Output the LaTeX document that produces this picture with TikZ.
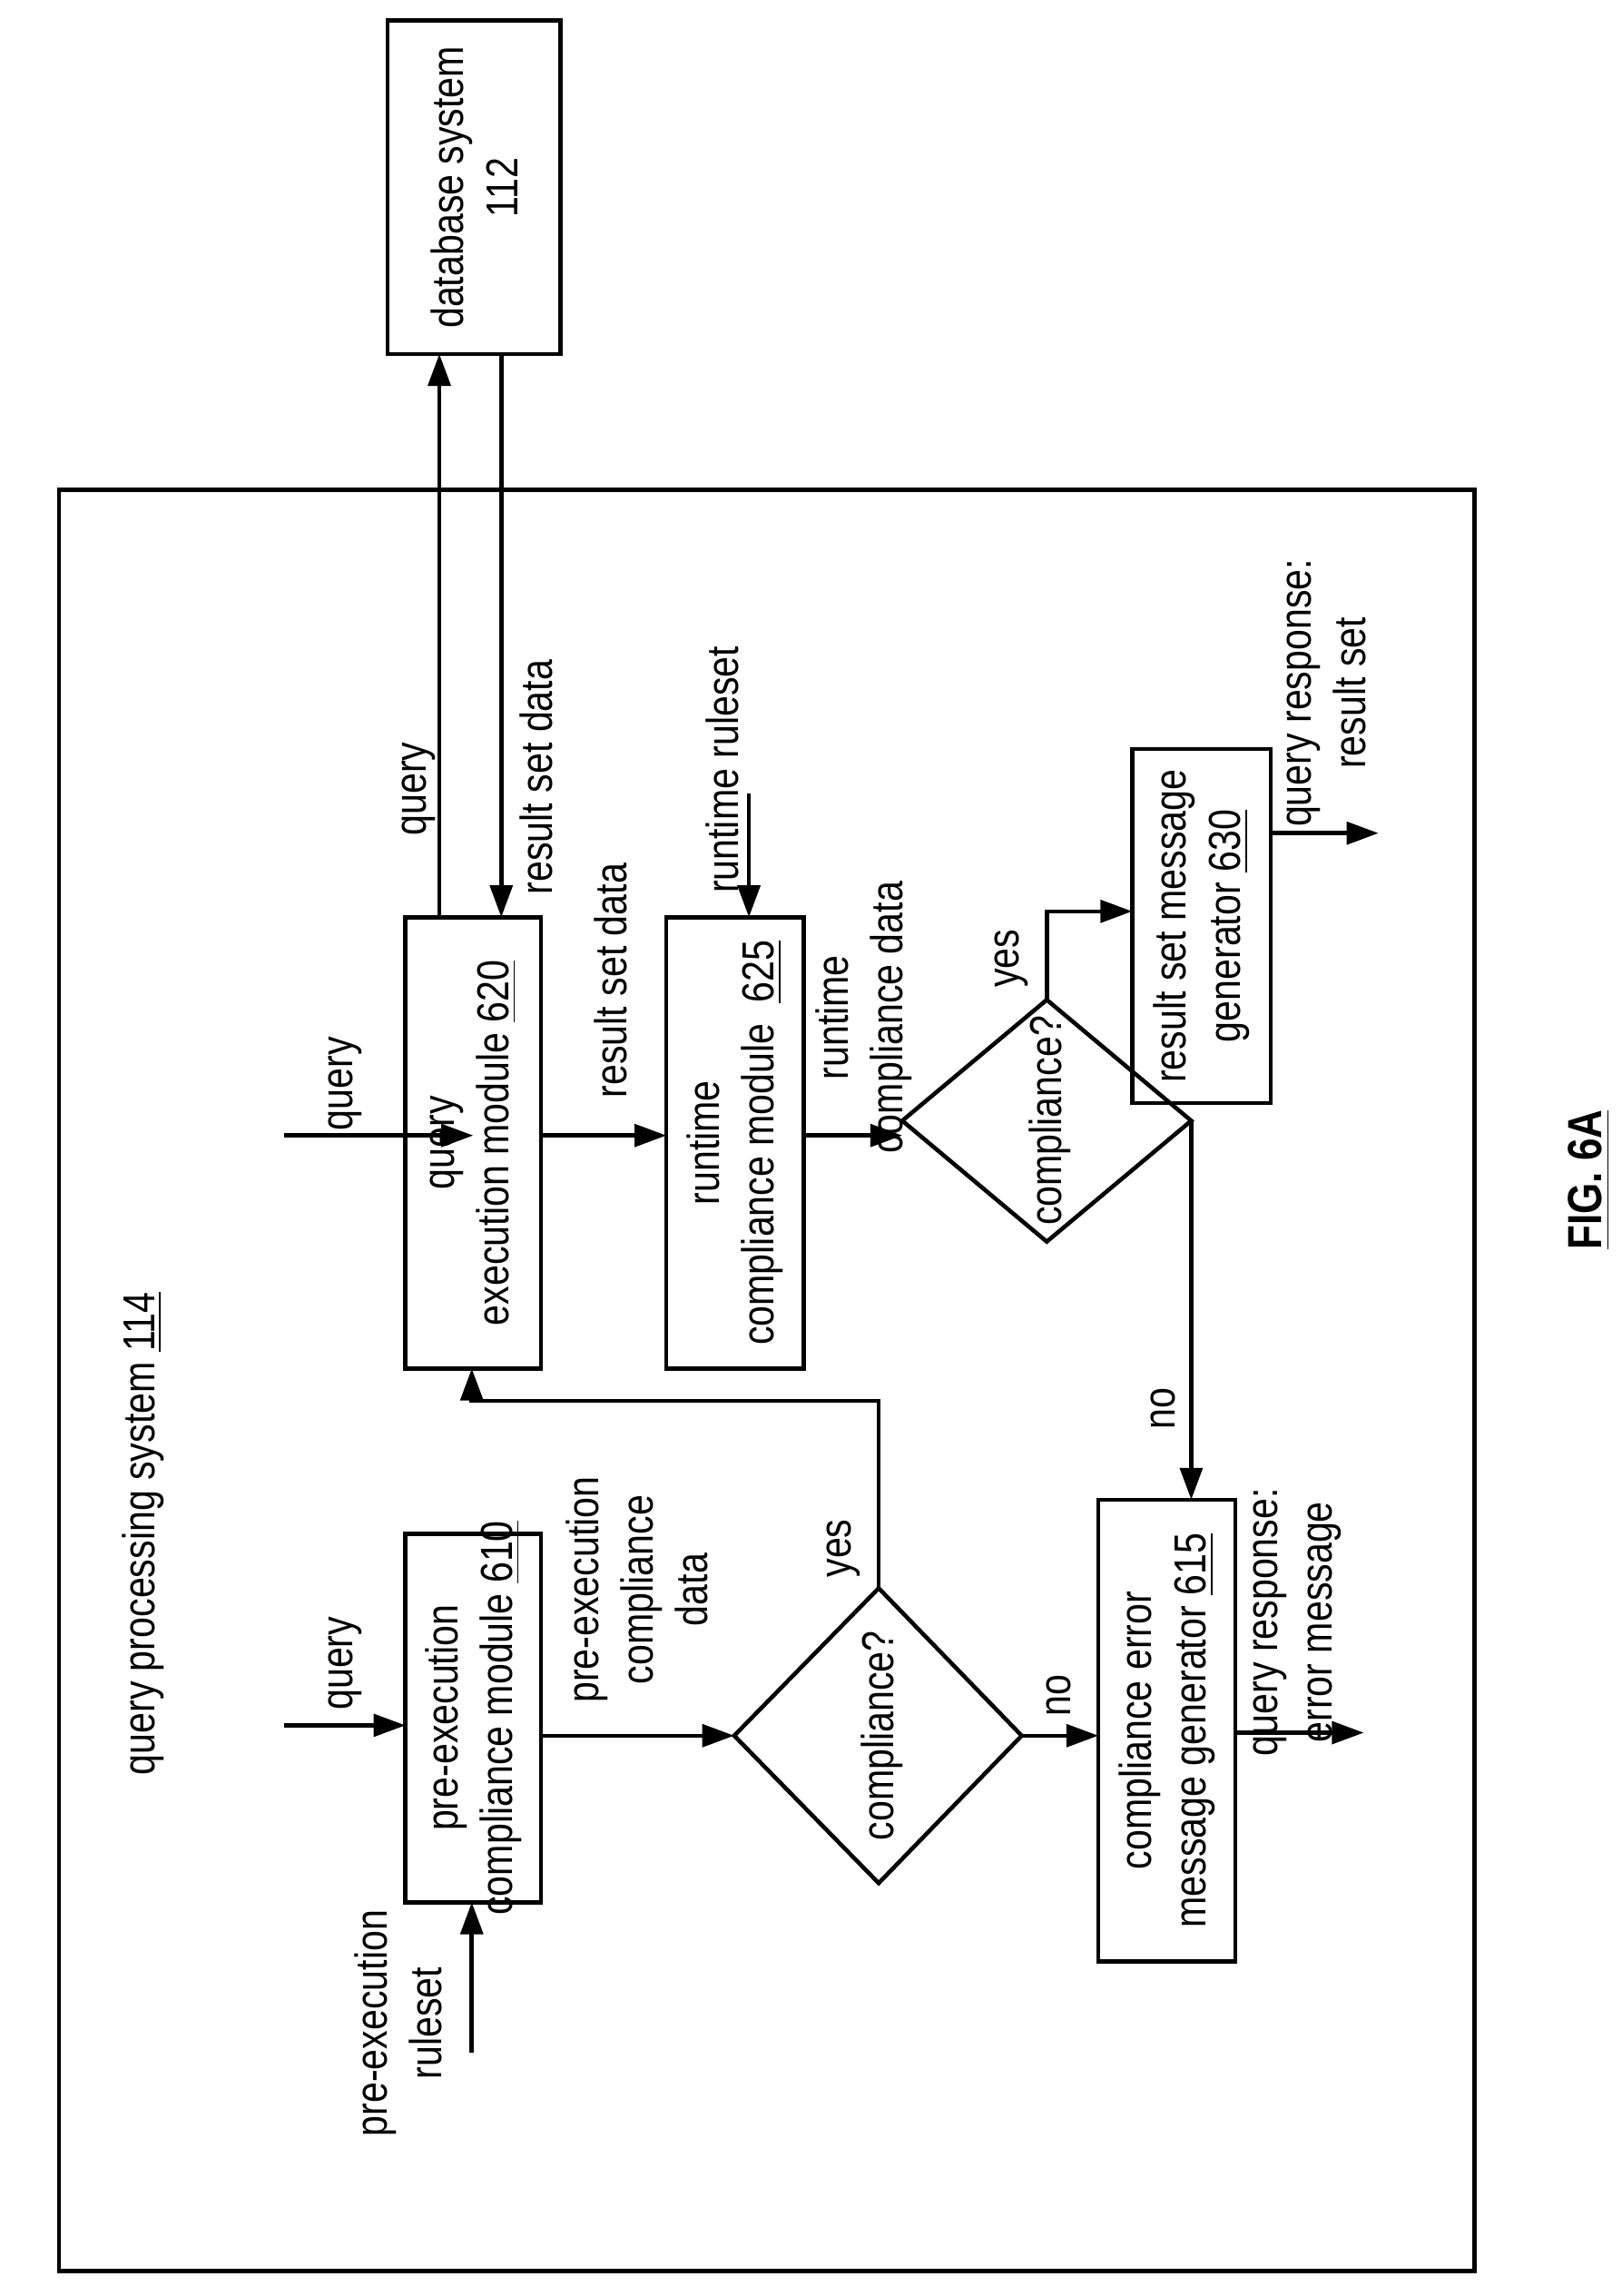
\documentclass[tikz,border=0pt]{standalone}
\usepackage{fontspec}
\setmainfont{Liberation Sans}
\usetikzlibrary{arrows.meta}
\begin{document}
\begin{tikzpicture}[x=0.01624cm,y=-0.01624cm,
  line width=1.3pt,
  box/.style={draw,rectangle,inner sep=0pt},
  lbl/.style={rotate=90,yscale=1.2,align=center,font=\fontsize{11.7}{14.2}\selectfont,inner sep=0pt},
  arr/.style={-{Triangle[length=10pt,width=7pt]}}]
\useasboundingbox (0,0) rectangle (1100,1557);
\draw (40,332) rectangle (1000,1540);
% boxes
\node[box,minimum width=117*0.01624cm,minimum height=226*0.01624cm] (db) at (321.5,127) {};
\node[lbl] at (321.5,127) {database system\\112};
\node[box,minimum width=92*0.01624cm,minimum height=306*0.01624cm] (m620) at (321,775) {};
\node[lbl] at (321,775) {query\\execution module \underline{620}};
\node[box,minimum width=93*0.01624cm,minimum height=306*0.01624cm] (m625) at (498.5,775) {};
\node[lbl] at (498.5,775) {runtime\\compliance module \ \underline{625}};
\node[box,minimum width=92*0.01624cm,minimum height=250*0.01624cm] (m610) at (321,1165) {};
\node[lbl] at (321,1165) {pre-execution\\compliance module \underline{610}};
\node[box,minimum width=93*0.01624cm,minimum height=313*0.01624cm] (m615) at (791.5,1173.5) {};
\node[lbl] at (791.5,1173.5) {compliance error\\message generator \underline{615}};
\node[box,minimum width=94*0.01624cm,minimum height=240*0.01624cm] (m630) at (815,628) {};
\node[lbl] at (815,628) {result set message\\generator \underline{630}};
% diamonds
\coordinate (d1l) at (612,760); \coordinate (d1t) at (710,678);
\coordinate (d1r) at (808,760); \coordinate (d1b) at (710,842);
\draw (d1l)--(d1t)--(d1r)--(d1b)--cycle;
\node[lbl] (d1) at (712,760) {compliance?};
\coordinate (d2l) at (498,1177); \coordinate (d2t) at (596,1077);
\coordinate (d2r) at (693,1177); \coordinate (d2b) at (596,1277);
\draw (d2l)--(d2t)--(d2r)--(d2b)--cycle;
\node[lbl] (d2) at (598,1177) {compliance?};
% titles
\node[lbl] (title) at (97,1040) {query processing system \underline{114}};
\node[lbl,font=\bfseries\fontsize{12.5}{15}\selectfont] (fig) at (1078,800) {\underline{FIG. 6A}};
% arrows
\coordinate (q1) at (193,770); \draw[arr] (q1) -- (q1-|m620.north);
\node[lbl] at (234,735) {query};
\draw[arr] (298,622) -- (298,240); \node[lbl] at (284,535) {query};
\draw[arr] (340,240) -- (340,622); \node[lbl] at (364,527) {result set data};
\draw[arr] (367,770) -- (452,770); \node[lbl] at (414,665) {result set data};
\coordinate (rr) at (508,538); \draw[arr] (rr) -- (508,622);
\node[lbl] at (490,522) {runtime ruleset};
\draw[arr] (545,770) -- (d1l|-0,770); \node[lbl] at (586,690) {runtime\\compliance data};
\draw[arr] (d1t) -- (710,618) -- (768,618); \node[lbl] at (686,650) {yes};
\draw[arr] (d1r) -- (808,1017); \node[lbl] at (789,955) {no};
\coordinate (o1) at (935,565); \draw[arr] (862,565) -- (o1);
\node[lbl] at (900,470) {query response:\\result set};
\coordinate (q2) at (193,1170); \draw[arr] (q2) -- (275,1170);
\node[lbl] at (234,1128) {query};
\coordinate (pr) at (320,1392); \draw[arr] (pr) -- (320,1290);
\node[lbl] at (270,1372) {pre-execution\\ruleset};
\draw[arr] (367,1177) -- (d2l); \node[lbl] at (432,1078) {pre-execution\\compliance\\data};
\draw[arr] (d2t) -- (596,950) -- (320,950) -- (320,928); \node[lbl] at (572,1050) {yes};
\draw[arr] (d2r) -- (745,1177); \node[lbl] at (718,1150) {no};
\coordinate (o2) at (925,1175); \draw[arr] (838,1175) -- (o2);
\node[lbl] at (880,1100) {query response:\\error message};
\end{tikzpicture}
\end{document}
